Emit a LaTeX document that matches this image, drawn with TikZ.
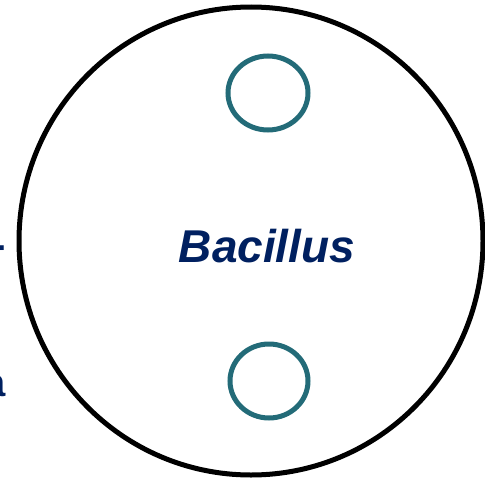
\documentclass[tikz,border=0pt]{standalone}
\usepackage{fontspec}
\setmainfont{Liberation Sans}
\definecolor{navy}{RGB}{0,32,96}
\definecolor{teal}{RGB}{35,107,120}
\begin{document}
\begin{tikzpicture}[x=1pt,y=-1pt,
  cellwall/.style={draw=black,line width=5pt},
  spore/.style={draw=teal,line width=5pt},
  label/.style={text=navy,font=\fontsize{46}{50}\selectfont\bfseries\itshape,inner sep=0pt},
  sidetext/.style={text=navy,font=\fontsize{40}{44}\selectfont\bfseries,inner sep=0pt,anchor=base east}]
\useasboundingbox (0,0) rectangle (485,479);
% cell outline
\draw[cellwall] (251,241) circle[x radius=232,y radius=234];
% spores
\draw[spore] (268,93) ellipse[x radius=40,y radius=37];
\draw[spore] (269,381) ellipse[x radius=39,y radius=37];
% name
\node[label] (name) at (267,246) {Bacillus};
% neighbouring text, cut at the left edge
\node[sidetext] (hyph) at (6,258) {-};
\node[sidetext] (tail) at (6,396) {a};
\end{tikzpicture}
\end{document}
